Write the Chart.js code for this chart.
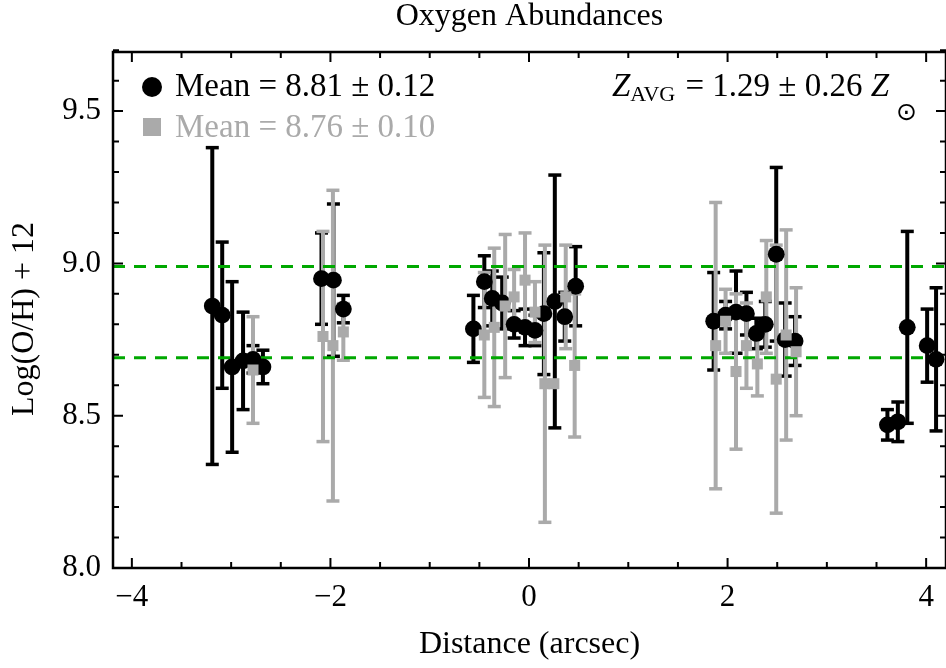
<!DOCTYPE html>
<html>
<head>
<meta charset="utf-8">
<title>Oxygen Abundances</title>
<script src="https://cdn.jsdelivr.net/npm/chart.js@4"></script>
<style>
  html, body { margin: 0; padding: 0; background: #fff; }
</style>
</head>
<body>
<canvas id="oxy" width="946" height="668"></canvas>
<script>
// black circles: distance (arcsec), log(O/H)+12, error
const blackX = [-3.19, -3.09, -2.99, -2.88, -2.78, -2.68, -2.09, -1.97, -1.87,
  -0.56, -0.45, -0.37, -0.27, -0.15, -0.04, 0.06, 0.15, 0.26, 0.36, 0.47,
  1.86, 1.98, 2.085, 2.19, 2.29, 2.38, 2.49, 2.58, 2.68,
  3.61, 3.715, 3.81, 4.01, 4.10];
const blackY = [8.86, 8.83, 8.66, 8.68, 8.685, 8.66, 8.95, 8.945, 8.85,
  8.785, 8.94, 8.885, 8.87, 8.80, 8.79, 8.78, 8.835, 8.875, 8.825, 8.925,
  8.81, 8.83, 8.84, 8.835, 8.77, 8.80, 9.03, 8.75, 8.745,
  8.47, 8.48, 8.79, 8.73, 8.685];
const blackErr = [0.52, 0.24, 0.28, 0.16, 0.045, 0.055, 0.15, 0.25, 0.045,
  0.11, 0.085, 0.09, 0.085, 0.045, 0.06, 0.05, 0.20, 0.415, 0.08, 0.13,
  0.16, 0.045, 0.135, 0.07, 0.05, 0.075, 0.285, 0.12, 0.08,
  0.05, 0.065, 0.315, 0.12, 0.235];

// gray squares
const grayX = [-2.78, -2.075, -1.975, -1.87,
  -0.45, -0.35, -0.24, -0.15, -0.04, 0.06, 0.16, 0.25, 0.37, 0.46,
  1.88, 1.98, 2.085, 2.19, 2.30, 2.39, 2.49, 2.59, 2.69];
const grayY = [8.65, 8.76, 8.73, 8.775,
  8.765, 8.79, 8.86, 8.89, 8.945, 8.84, 8.605, 8.605, 8.89, 8.665,
  8.73, 8.81, 8.645, 8.73, 8.67, 8.89, 8.62, 8.765, 8.71];
const grayErr = [0.175, 0.345, 0.51, 0.093,
  0.205, 0.26, 0.235, 0.09, 0.155, 0.10, 0.455, 0, 0.17, 0.235,
  0.47, 0.105, 0.255, 0.14, 0.105, 0.185, 0.44, 0.345, 0.21];

const bandLines = [8.69, 8.99];
const xTickLabels = [-4, -2, 0, 2, 4];
const yTickLabels = [8.0, 8.5, 9.0, 9.5];
const legendLabels = ['Mean = 8.81 \u00b1 0.12', 'Mean = 8.76 \u00b1 0.10'];
const zText = ' = 1.29 \u00b1 0.26 ';

const GRAY = '#aaaaaa';
const GREEN = '#00a800';
const SERIF = '"Liberation Serif", "Times New Roman", "DejaVu Serif", serif';
const X_MIN = -4.19, X_MAX = 4.20, Y_MIN = 8.0, Y_MAX = 9.694;

const points = (xs, ys) => xs.map((x, i) => ({x: x, y: ys[i]}));

// each error bar is a two point segment, broken by a null
const errorBars = (xs, ys, es) => {
  const out = [];
  xs.forEach((x, i) => {
    if (!es[i]) return;
    out.push({x: x, y: ys[i] - es[i]}, {x: x, y: ys[i] + es[i]}, {x: x, y: null});
  });
  return out;
};

const barStyle = (color) => ({
  showLine: true, spanGaps: false,
  borderColor: color, borderWidth: 4,
  pointStyle: 'line', pointRadius: 6.5, pointBorderWidth: 3.5,
  pointBorderColor: color, pointBackgroundColor: color
});

// frame with inward ticks, title, legend text
const decorations = {
  id: 'decorations',
  afterDraw(chart) {
    const {ctx, chartArea: a, scales: {x, y}} = chart;
    ctx.save();
    ctx.strokeStyle = '#000';
    ctx.lineWidth = 2;
    ctx.beginPath();
    for (let v = -4; v <= 4.001; v += 0.5) {
      const px = x.getPixelForValue(v);
      const len = Math.abs(v % 2) < 1e-6 ? 10 : 6;
      ctx.moveTo(px, a.bottom); ctx.lineTo(px, a.bottom - len);
      ctx.moveTo(px, a.top); ctx.lineTo(px, a.top + len);
    }
    for (let k = 80; k <= 97; k++) {
      const v = k / 10;
      const py = y.getPixelForValue(v);
      const len = k % 5 === 0 ? 10 : 6;
      ctx.moveTo(a.left, py); ctx.lineTo(a.left + len, py);
      ctx.moveTo(a.right, py); ctx.lineTo(a.right - len, py);
    }
    ctx.stroke();
    ctx.lineWidth = 2.5;
    ctx.strokeRect(a.left, a.top, a.right - a.left, a.bottom - a.top);

    // title
    ctx.fillStyle = '#000';
    ctx.textAlign = 'center';
    ctx.textBaseline = 'alphabetic';
    ctx.font = '32px ' + SERIF;
    ctx.fillText('Oxygen Abundances', (a.left + a.right) / 2, 25);

    // y axis title
    ctx.save();
    ctx.translate(33, 319);
    ctx.rotate(-Math.PI / 2);
    ctx.fillText('Log(O/H) + 12', 0, 0);
    ctx.restore();

    // legend
    ctx.textAlign = 'left';
    ctx.font = '33px ' + SERIF;
    ctx.beginPath();
    ctx.arc(152, 87, 10, 0, Math.PI * 2);
    ctx.fill();
    ctx.fillText(legendLabels[0], 175, 96);
    ctx.fillStyle = GRAY;
    ctx.fillRect(143, 118, 18, 18);
    ctx.fillText(legendLabels[1], 175, 137);

    // Z_AVG = ... Z_sun
    ctx.fillStyle = '#000';
    let cx = 612;
    ctx.font = 'italic 33px ' + SERIF;
    ctx.fillText('Z', cx, 96);
    cx += ctx.measureText('Z').width;
    ctx.font = '22px ' + SERIF;
    ctx.fillText('AVG', cx, 101);
    cx += ctx.measureText('AVG').width + 2;
    ctx.font = '33px ' + SERIF;
    ctx.fillText(zText, cx, 96);
    cx += ctx.measureText(zText).width;
    ctx.font = 'italic 33px ' + SERIF;
    ctx.fillText('Z', cx, 96);
    cx += ctx.measureText('Z').width + 7;
    ctx.font = '25px "DejaVu Sans", ' + SERIF;
    ctx.fillText('\u2299', cx, 120);
    ctx.restore();
  }
};

new Chart(document.getElementById('oxy'), {
  type: 'scatter',
  data: {
    datasets: [
      {
        label: 'gray', data: points(grayX, grayY),
        pointStyle: 'rect', pointRadius: 7.8, pointBorderWidth: 0,
        backgroundColor: GRAY, borderColor: GRAY, order: 1
      },
      {
        label: 'black', data: points(blackX, blackY),
        pointStyle: 'circle', pointRadius: 8.4, pointBorderWidth: 0,
        backgroundColor: '#000', borderColor: '#000', order: 2
      },
      {
        label: 'upper', data: [{x: X_MIN, y: bandLines[1]}, {x: X_MAX, y: bandLines[1]}],
        showLine: true, borderColor: GREEN, borderWidth: 3, borderDash: [12, 9],
        pointRadius: 0, order: 3
      },
      {
        label: 'lower', data: [{x: X_MIN, y: bandLines[0]}, {x: X_MAX, y: bandLines[0]}],
        showLine: true, borderColor: GREEN, borderWidth: 3, borderDash: [12, 9],
        pointRadius: 0, order: 3
      },
      Object.assign({label: 'gray err', data: errorBars(grayX, grayY, grayErr), order: 4}, barStyle(GRAY)),
      Object.assign({label: 'black err', data: errorBars(blackX, blackY, blackErr), order: 5}, barStyle('#000'))
    ]
  },
  options: {
    responsive: false,
    animation: false,
    events: [],
    layout: {autoPadding: false, padding: {top: 52, right: -3, bottom: 0, left: 0}},
    plugins: {legend: {display: false}, tooltip: {enabled: false}, title: {display: false}},
    scales: {
      x: {
        type: 'linear', min: X_MIN, max: X_MAX,
        grid: {display: false, drawTicks: false},
        border: {display: false},
        afterBuildTicks: (s) => { s.ticks = xTickLabels.map(v => ({value: v})); },
        afterFit: (s) => { s.height = 100; s.paddingLeft = 0; s.paddingRight = 0; },
        ticks: {
          color: '#000', padding: 11, maxRotation: 0, autoSkip: false,
          font: {family: SERIF, size: 31},
          callback: (v) => v < 0 ? '\u2212' + Math.abs(v) : String(v)
        },
        title: {
          display: true, text: 'Distance (arcsec)', color: '#000',
          font: {family: SERIF, size: 32}, padding: {top: 0, bottom: 4}
        }
      },
      y: {
        type: 'linear', min: Y_MIN, max: Y_MAX,
        grid: {display: false, drawTicks: false},
        border: {display: false},
        afterBuildTicks: (s) => { s.ticks = yTickLabels.map(v => ({value: v})); },
        afterFit: (s) => { s.width = 113; s.paddingTop = 0; s.paddingBottom = 0; },
        ticks: {
          color: '#000', padding: 12, autoSkip: false,
          font: {family: SERIF, size: 31},
          callback: (v) => v.toFixed(1)
        }
      }
    }
  },
  plugins: [decorations]
});
</script>
</body>
</html>
